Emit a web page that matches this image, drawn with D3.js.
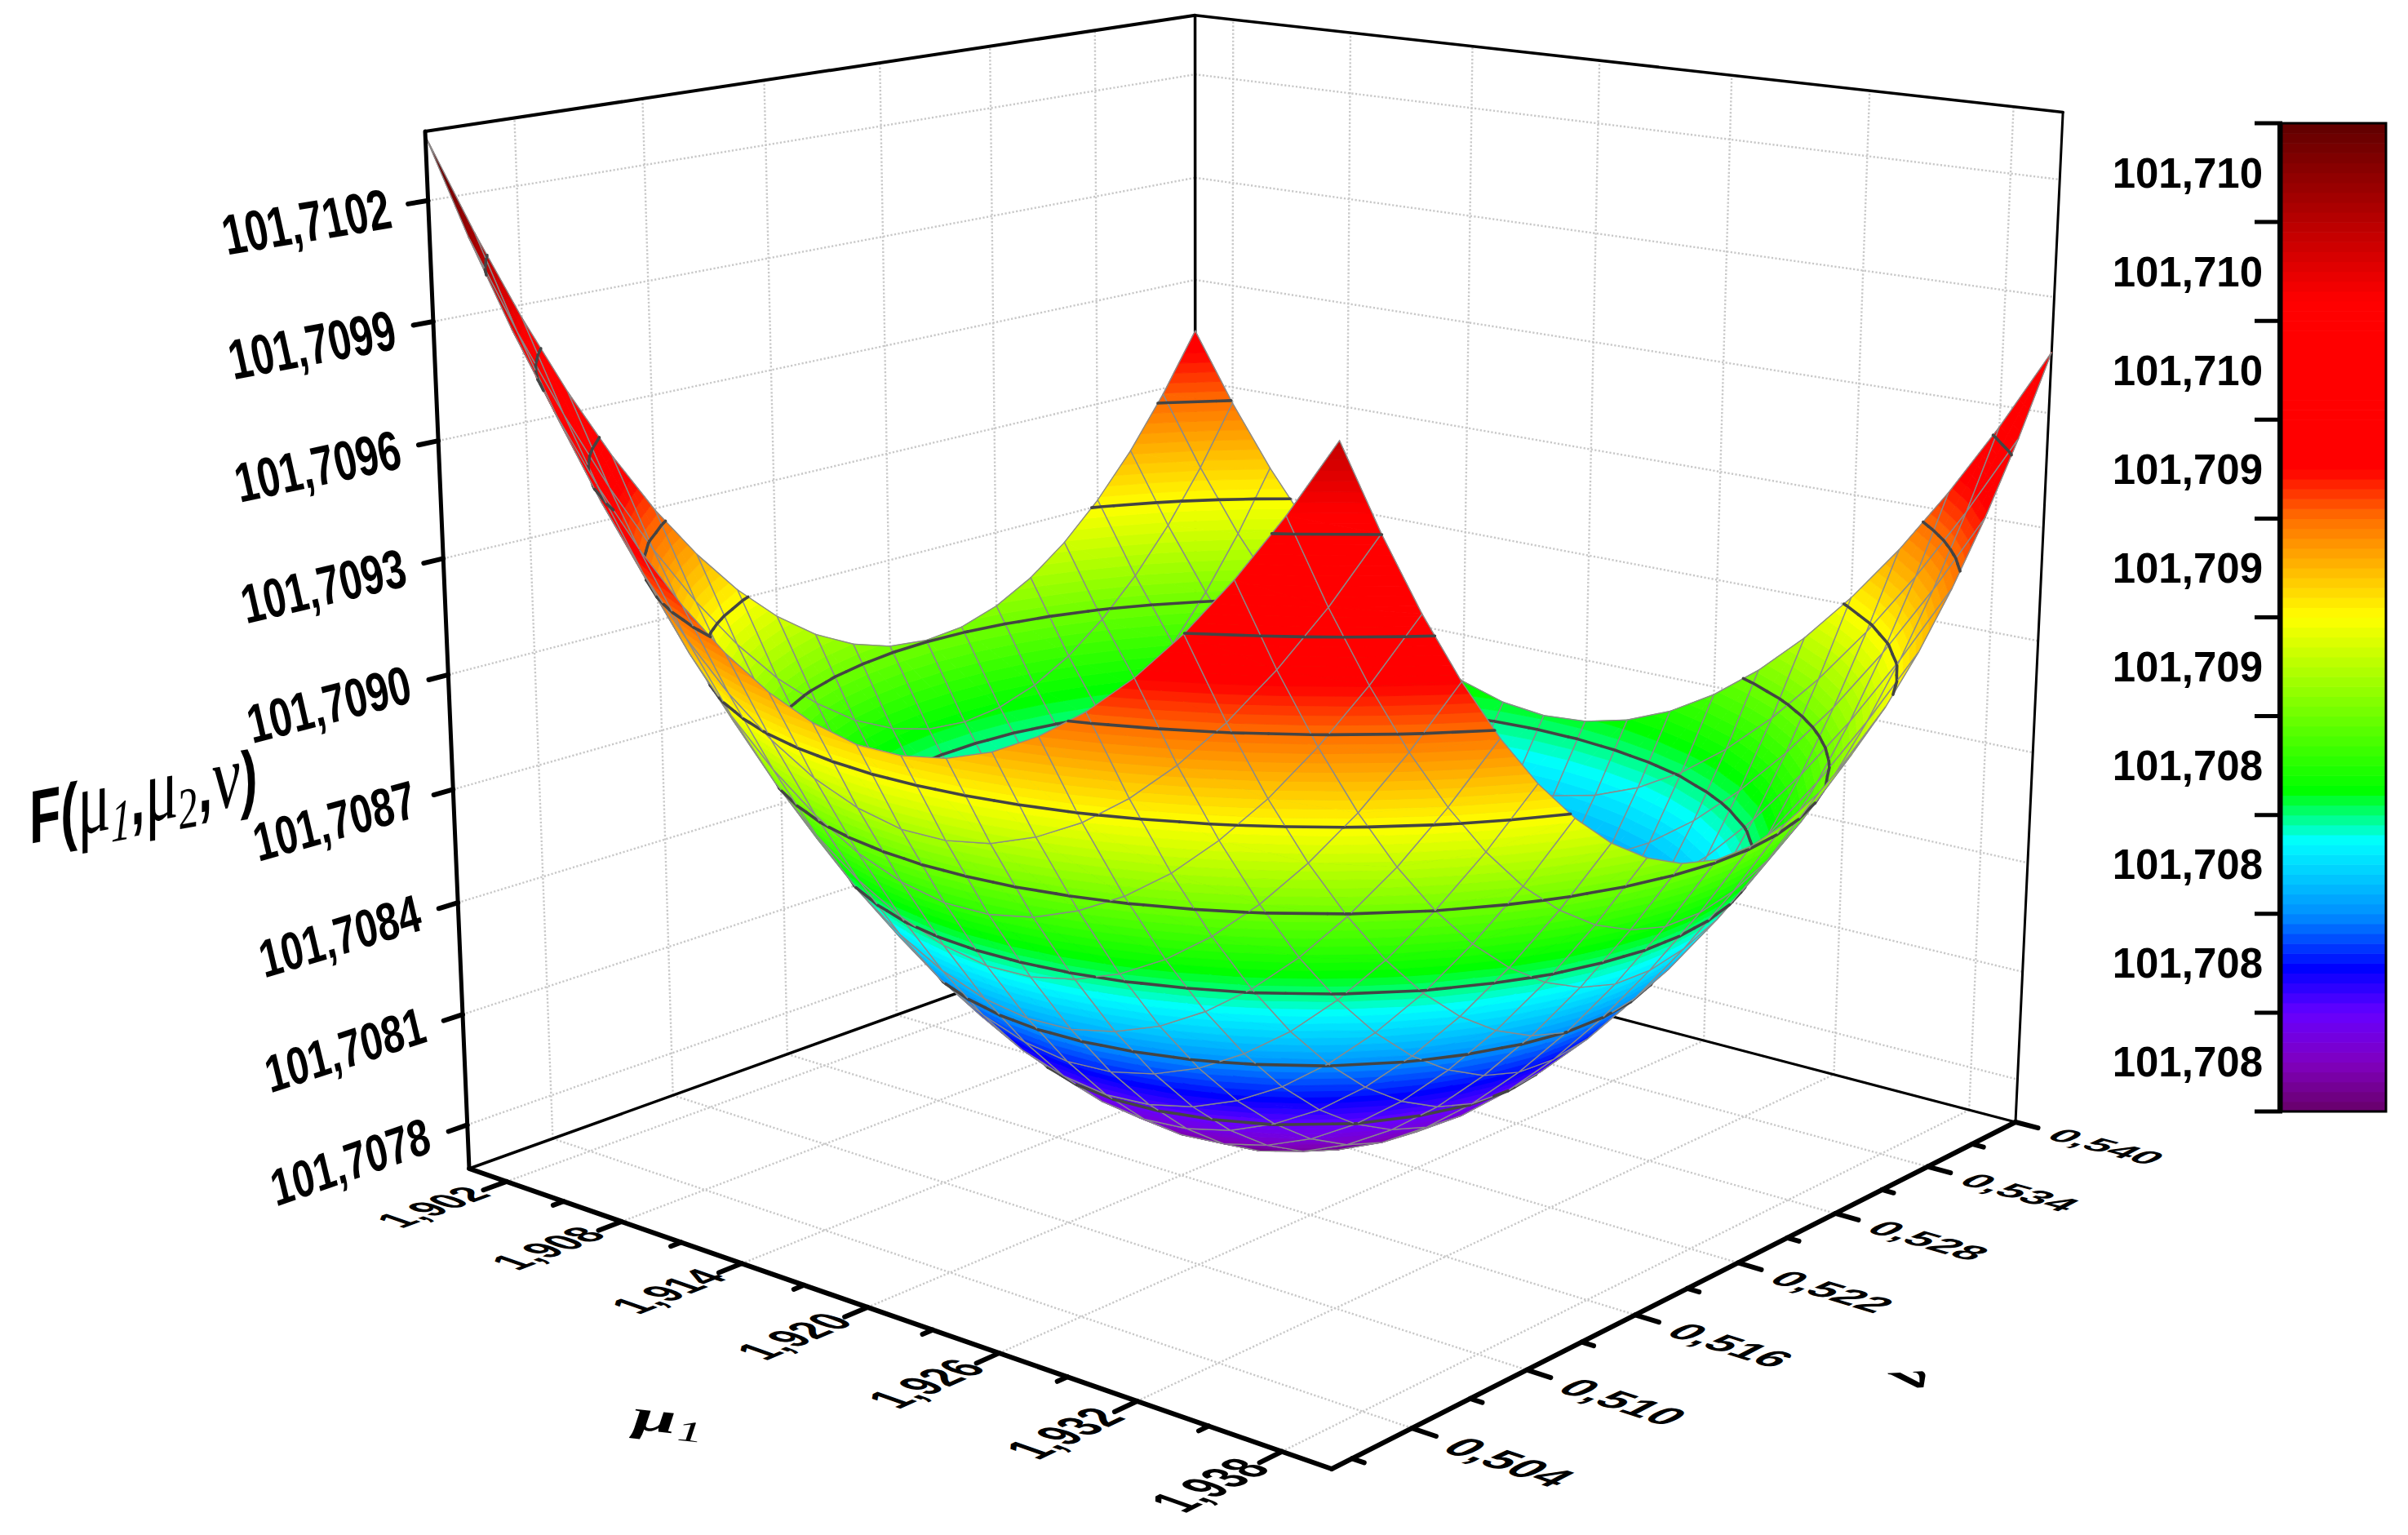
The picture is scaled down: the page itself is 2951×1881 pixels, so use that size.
<!DOCTYPE html>
<html><head><meta charset="utf-8">
<style>html,body{margin:0;background:#fff}svg{display:block}
text{font-family:"Liberation Sans",Arial,sans-serif;font-weight:bold;fill:#000}</style>
<script src="https://cdn.jsdelivr.net/npm/d3@7"></script></head><body>
<script>
const muTicks=[1.902,1.908,1.914,1.920,1.926,1.932,1.938];
const muMinor=[1.905,1.911,1.917,1.923,1.929,1.935];
const nuTicks=[0.504,0.510,0.516,0.522,0.528,0.534,0.540];
const nuMinor=[0.501,0.507,0.513,0.519,0.525,0.531,0.537];
const zTicks=[101.7078,101.7081,101.7084,101.7087,101.7090,101.7093,101.7096,101.7099,101.7102];
const levelTicks=[101.7077,101.70796,101.70822,101.70848,101.70874,101.709,101.70926,101.70952,101.70978,101.71004,101.7103];
const colorStops=[[0,"#680068"],[0.5,"#8000c0"],[1,"#6600ff"],[1.45,"#0000ff"],[2,"#0090ff"],[2.74,"#00ffff"],[3.25,"#00ff00"],[5,"#ffff00"],[6,"#ff7000"],[6.5,"#ff0000"],[8.2,"#ff0000"],[10,"#600000"]];
const muGrid=[1.900,1.902,1.904,1.906,1.908,1.910,1.912,1.914,1.916,1.918,1.920,1.922,1.924,1.926,1.928,1.930,1.932,1.934,1.936,1.938,1.940];
const nuGrid=[0.500,0.502,0.504,0.506,0.508,0.510,0.512,0.514,0.516,0.518,0.520,0.522,0.524,0.526,0.528,0.530,0.532,0.534,0.536,0.538,0.540];
// F values, in millionths above 101.7; one row per muGrid entry, one column per nuGrid entry
const zMicro=[
[10359,10102,9867,9655,9465,9296,9151,9027,8926,8847,8791,8756,8744,8754,8787,8842,8919,9018,9139,9283,9449],
[10127,9872,9639,9428,9240,9074,8930,8808,8709,8631,8577,8544,8534,8546,8580,8636,8715,8816,8939,9085,9253],
[9920,9666,9435,9226,9039,8875,8732,8612,8515,8439,8386,8355,8347,8360,8396,8455,8535,8638,8763,8910,9080],
[9735,9483,9254,9047,8862,8699,8558,8440,8344,8271,8219,8190,8183,8199,8237,8296,8379,8483,8610,8759,8930],
[9574,9324,9096,8891,8708,8547,8408,8292,8197,8125,8076,8048,8043,8061,8100,8162,8246,8352,8480,8631,8804],
[9436,9188,8962,8758,8577,8417,8280,8166,8073,8003,7955,7930,7926,7945,7987,8050,8136,8244,8374,8527,8701],
[9321,9074,8850,8648,8468,8311,8176,8063,7972,7904,7858,7834,7832,7853,7896,7961,8049,8158,8290,8445,8621],
[9228,8984,8761,8561,8383,8227,8094,7982,7894,7827,7783,7760,7761,7783,7828,7895,7984,8095,8229,8385,8564],
[9158,8915,8694,8496,8320,8166,8034,7924,7837,7772,7730,7709,7711,7735,7782,7851,7942,8055,8190,8348,8528],
[9110,8869,8650,8453,8278,8126,7996,7888,7803,7740,7699,7680,7684,7710,7758,7829,7921,8036,8174,8333,8515],
[9083,8844,8627,8432,8259,8108,7980,7874,7791,7729,7690,7673,7679,7706,7756,7829,7923,8040,8179,8340,8524],
[9083,8845,8628,8435,8263,8114,7988,7883,7801,7740,7703,7688,7695,7724,7776,7850,7946,8065,8205,8369,8554],
[9103,8866,8651,8460,8290,8142,8016,7913,7832,7774,7737,7724,7733,7764,7817,7893,7991,8111,8254,8418,8605],
[9145,8910,8697,8505,8336,8190,8066,7965,7884,7827,7792,7780,7791,7824,7879,7957,8057,8178,8323,8489,8678],
[9208,8973,8762,8572,8405,8260,8136,8036,7958,7902,7868,7858,7871,7905,7962,8042,8143,8267,8413,8581,8772],
[9291,9058,8847,8659,8493,8349,8228,8129,8052,7997,7965,7957,7971,8007,8066,8147,8250,8376,8524,8694,8886],
[9394,9163,8954,8767,8602,8460,8340,8242,8167,8113,8082,8076,8092,8130,8190,8273,8378,8505,8655,8827,9021],
[9518,9288,9080,8895,8732,8590,8471,8375,8301,8249,8219,8215,8232,8272,8335,8419,8526,8655,8806,8980,9175],
[9662,9433,9227,9042,8880,8741,8624,8529,8455,8405,8376,8374,8393,8435,8499,8585,8693,8824,8977,9152,9350],
[9825,9597,9393,9210,9050,8911,8794,8701,8629,8581,8553,8552,8573,8617,8683,8770,8881,9013,9168,9345,9544],
[10008,9782,9578,9397,9237,9100,8986,8893,8823,8775,8750,8750,8773,8818,8886,8975,9087,9222,9378,9557,9758]];
const zGrid=zMicro.map(r=>r.map(v=>101.7+v*1e-6));
const gridN=muGrid.length;

const W=2951,H=1881;
const svg=d3.select("body").append("svg").attr("width",W).attr("height",H).attr("viewBox",`0 0 ${W} ${H}`);
const sx=d3.scaleLinear([1.9,1.94],[0,1]), sy=d3.scaleLinear([0.5,0.54],[0,1]), sz=d3.scaleLinear([101.70768,101.71037],[0,1]);
const lv=d3.scaleLinear([101.7077,101.7103],[0,10]);
const ramp=d3.scaleLinear(colorStops.map(d=>d[0]),colorStops.map(d=>d[1])).interpolate(d3.interpolateRgb);
const fr={L:[575,1432],F:[1632,1800],R:[2470,1375],B:[1465,1112],Lt:[521,161],Rt:[2528,140]};
const cam=(()=>{const {L,F,R,B,Lt,Rt}=fr;
 const dx1=F[0]-R[0],dx2=B[0]-R[0],qx=L[0]-F[0]+R[0]-B[0],dy1=F[1]-R[1],dy2=B[1]-R[1],qy=L[1]-F[1]+R[1]-B[1];
 const den=dx1*dy2-dx2*dy1,g=(qx*dy2-dx2*qy)/den,h=(dx1*qy-qx*dy1)/den;
 const a=F[0]-L[0]+g*F[0],b=B[0]-L[0]+h*B[0],c=L[0],d=F[1]-L[1]+g*F[1],e=B[1]-L[1]+h*B[1],f=L[1];
 const m1=(Lt[0]-L[0])/(Lt[1]-L[1]),m2=(Rt[0]-R[0])/(Rt[1]-R[1]);
 const Vy=(R[0]-m2*R[1]-L[0]+m1*L[1])/(m1-m2),Vx=L[0]+m1*(Vy-L[1]);
 const t=(Lt[1]-L[1])/(Vy-Lt[1]);
 return {a,b,c,d,e,f,g,h,t,Vx,Vy};})();
function P(X,Y,Z){const q=cam,w=q.g*X+q.h*Y+1+Z*q.t;return [(q.a*X+q.b*Y+q.c+Z*q.t*q.Vx)/w,(q.d*X+q.e*Y+q.f+Z*q.t*q.Vy)/w,w];}
const line=d3.line();
function seg(parent,a,b,w,col,dash){const s=parent.append("path").attr("d",line([a.slice(0,2),b.slice(0,2)])).attr("fill","none").attr("stroke",col).attr("stroke-width",w);if(dash)s.attr("stroke-dasharray",dash);else s.attr("stroke-linecap","round");return s;}

// gridlines
const g0=svg.append("g");
const gc="#c8c8c8",gd="2.2 2.4";
muTicks.forEach(v=>{const x=sx(v);seg(g0,P(x,0,0),P(x,1,0),2.4,gc,gd);seg(g0,P(x,1,0),P(x,1,1),2.4,gc,gd);});
nuTicks.forEach(v=>{const y=sy(v);seg(g0,P(0,y,0),P(1,y,0),2.4,gc,gd);seg(g0,P(0,y,0),P(0,y,1),2.4,gc,gd);});
zTicks.forEach(v=>{const z=sz(v);seg(g0,P(0,0,z),P(0,1,z),2.4,gc,gd);seg(g0,P(0,1,z),P(1,1,z),2.4,gc,gd);});
// back frame
seg(g0,P(0,0,0),P(0,1,0),3.5,"#000");seg(g0,P(0,1,0),P(1,1,0),3,"#000");
seg(g0,P(0,1,0),P(0,1,1),3.5,"#000");seg(g0,P(1,1,0),P(1,1,1),3,"#000");
seg(g0,P(0,0,1),P(0,1,1),4,"#000");seg(g0,P(0,1,1),P(1,1,1),3.5,"#000");

// surface
const surf=svg.append("g");
const bandN=100, levelZ=m=>lv.invert(m/10);
function clip(poly,lo,hi){
 const cut=(pts,keep,val)=>{const o=[];pts.forEach((p,i)=>{const q=pts[(i+1)%pts.length],a=keep(p[2]),b=keep(q[2]);if(a)o.push(p);if(a!==b){const s=(val-p[2])/(q[2]-p[2]);o.push([p[0]+s*(q[0]-p[0]),p[1]+s*(q[1]-p[1]),val]);}});return o;};
 let r=cut(poly,z=>z>=lo,lo);if(r.length)r=cut(r,z=>z<=hi,hi);return r;}
const cells=[];
for(let i=0;i<gridN-1;i++)for(let j=0;j<gridN-1;j++){
 const v=(a,b)=>[sx(muGrid[a]),sy(nuGrid[b]),zGrid[a][b]];
 const A=v(i,j),B=v(i+1,j),C=v(i+1,j+1),D=v(i,j+1);
 const pr=p=>P(p[0],p[1],sz(p[2]));
 const depth=d3.mean([A,B,C,D],p=>pr(p)[2]);
 const bands=[],conts=[];
 [[A,B,C],[A,C,D]].forEach(tri=>{
  const zs=tri.map(p=>p[2]),mn=Math.max(0,Math.floor(lv(d3.min(zs))*10)),mx=Math.min(bandN-1,Math.floor(lv(d3.max(zs))*10));
  for(let m=mn;m<=mx;m++){const lo=m===0?-1e9:levelZ(m),hi=m===bandN-1?1e9:levelZ(m+1);const r=clip(tri,lo,hi);if(r.length>2)bands.push({d:line(r.map(p=>pr(p).slice(0,2)))+"Z",c:ramp((m+.5)/10)});}
  levelTicks.slice(1,-1).forEach(l=>{const pts=[];tri.forEach((p,q)=>{const n=tri[(q+1)%3];if((p[2]>=l)!==(n[2]>=l)){const s=(l-p[2])/(n[2]-p[2]);pts.push(pr([p[0]+s*(n[0]-p[0]),p[1]+s*(n[1]-p[1]),l]));}});if(pts.length===2)conts.push(line(pts.map(p=>p.slice(0,2))));});
 });
 const quad=[A,B,C,D].map(p=>pr(p).slice(0,2));
 cells.push({depth,bands,conts,mesh:line(quad)+"Z"});
}
cells.sort((a,b)=>b.depth-a.depth);
const cg=surf.selectAll("g").data(cells).join("g");
cg.selectAll("path.b").data(d=>d.bands).join("path").attr("class","b").attr("d",d=>d.d).attr("fill",d=>d.c).attr("stroke",d=>d.c).attr("stroke-width",0.9);
cg.append("path").attr("d",d=>d.mesh).attr("fill","none").attr("stroke","#8a8a8a").attr("stroke-width",1.4);
cg.selectAll("path.k").data(d=>d.conts).join("path").attr("class","k").attr("d",d=>d).attr("fill","none").attr("stroke","#444").attr("stroke-width",3.6).attr("stroke-linecap","round");

// front axes
const ax=svg.append("g");
seg(ax,P(0,0,0),P(0,0,1),5,"#000");seg(ax,P(0,0,0),P(1,0,0),6,"#000");seg(ax,P(1,0,0),P(1,1,0),6,"#000");
const tm=(p,b,u,fs)=>`matrix(${b[0]/fs},${b[1]/fs},${-u[0]/fs},${-u[1]/fs},${p[0]},${p[1]})`;
const dd=(A,B)=>[B[0]-A[0],B[1]-A[1]];
const fmt=d3.formatLocale({decimal:",",thousands:"",grouping:[3],currency:["",""]}).format;
muTicks.forEach(v=>{const x=sx(v);seg(ax,P(x,0,0),P(x,-.027,0),6,"#000");
 const a=P(x+.016,-.03,0);
 ax.append("text").attr("text-anchor","end").attr("font-size",50).attr("transform",tm(a,dd(a,P(x+.016,-.03+.043,0)),dd(a,P(x+.016-.055,-.03,0)),50)).text(fmt(".3f")(v));});
muMinor.forEach(v=>{const x=sx(v);seg(ax,P(x,0,0),P(x,-.012,0),6,"#000");});
nuTicks.forEach(v=>{const y=sy(v);seg(ax,P(1,y,0),P(1.024,y,0),6,"#000");
 const a=P(1.042,y-.019,0);
 ax.append("text").attr("text-anchor","start").attr("font-size",50).attr("transform",tm(a,dd(a,P(1.042+.044,y-.019,0)),dd(a,P(1.042,y-.019+.05,0)),50)).text(fmt(".3f")(v));});
nuMinor.forEach(v=>{const y=sy(v);seg(ax,P(1,y,0),P(1.012,y,0),6,"#000");});
zTicks.forEach(v=>{const z=sz(v);const o=P(0,0,z);seg(ax,o,P(0,-.022,z),6,"#000");
 const a=[o[0]-42,o[1]+33];
 const be=dd(P(0,0,z),P(0,.0445,z));
 ax.append("text").attr("text-anchor","end").attr("font-size",50).attr("transform",tm(a,be,[-15,-(61+8*z)],50)).text(fmt(".4f")(v));});

// titles
const t1=svg.append("text").attr("font-size",92).attr("transform","matrix(.68,-.125,0,1,36,1034)");
const serif='"Liberation Serif",serif';
const ser=(s,o)=>{const n=t1.append("tspan").style("font-family",serif).attr("font-weight","normal").attr("font-size",o&&o.fs||112).text(s);if(o&&o.dy)n.attr("dy",o.dy);if(o&&o.it)n.attr("font-style","italic");return n;};
t1.append("tspan").text("F(");
ser("μ");ser("1",{fs:72,dy:16,it:1});
t1.append("tspan").attr("dy",-16).text(",");
ser("μ");ser("2",{fs:72,dy:16});
t1.append("tspan").attr("dy",-16).text(",");
ser("ν");
t1.append("tspan").text(")");
const t2=svg.append("text").style("font-family",serif).attr("font-style","italic").attr("font-size",72).attr("transform","matrix(1.35,.15,0,.75,775,1751)");
t2.append("tspan").text("μ");
t2.append("tspan").attr("font-size",48).attr("font-weight","normal").attr("dy",10).text("1");
svg.append("text").style("font-family",serif).attr("font-size",60).attr("text-anchor","middle").attr("transform","matrix(1.67,-.1,.63,.67,2353,1700)").text("ν");

// colour bar
const cby=d3.scaleLinear([0,10],[1362,151]);
const cb=svg.append("g");const bx0=2797,bx1=2924;
cb.selectAll("rect").data(d3.range(bandN)).join("rect").attr("x",bx0).attr("width",bx1-bx0).attr("y",m=>cby((m+1)/10)).attr("height",m=>cby(m/10)-cby((m+1)/10)+.6).attr("fill",m=>ramp((m+.5)/10));
cb.append("path").attr("d",`M${bx0-1},${cby(10)}H${bx1}V${cby(0)}H${bx0-1}Z`).attr("fill","none").attr("stroke","#000").attr("stroke-width",3);
cb.append("path").attr("d",`M${bx0-3},${cby(10)}V${cby(0)}`).attr("stroke","#000").attr("stroke-width",6);
levelTicks.forEach((l,k)=>{seg(cb,[2763,cby(k)],[bx0,cby(k)],5,"#000").attr("stroke-linecap","butt");
 if(k<10)cb.append("text").attr("x",2773).attr("y",cby(k+.5)+18).attr("text-anchor","end").attr("font-size",51).text(fmt(".3f")(l));});
</script></body></html>
